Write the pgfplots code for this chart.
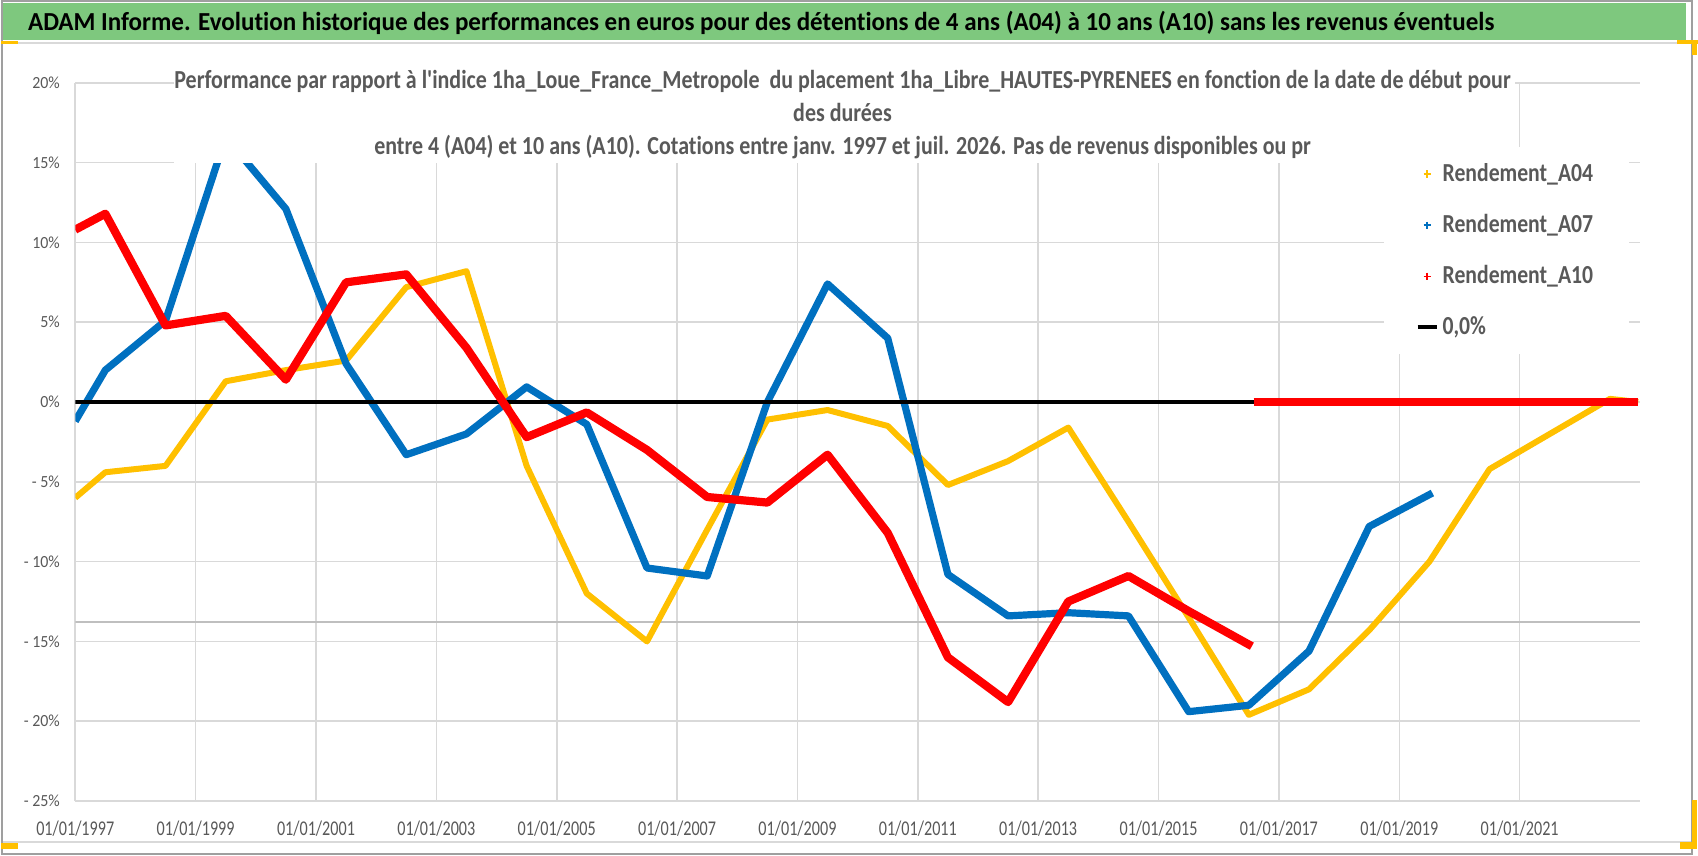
\documentclass[border=0pt]{standalone}
\usepackage{fontspec}
\setmainfont{Carlito}[Ligatures={TeX,NoCommon}]
\usepackage{graphicx}
\usepackage{pgfplots}
\pgfplotsset{compat=1.18}
\definecolor{ya}{HTML}{FFC000}
\definecolor{bl}{HTML}{0070C0}
\definecolor{rd}{HTML}{FF0000}
\definecolor{tx}{HTML}{595959}
\definecolor{grd}{HTML}{D9D9D9}
\definecolor{dgr}{HTML}{BFBFBF}
\definecolor{grn}{RGB}{126,200,126}
\newlength\Lw
\newcommand\fT{\fontsize{13}{15}\selectfont\bfseries}
\newcommand\fX{\fontsize{10.5}{12}\selectfont}
\newcommand\fY{\fontsize{8.5}{10}\selectfont}
\newcommand\fL{\fontsize{13}{15}\selectfont\bfseries}
\newcommand\TlineA{Performance par rapport à l\textquotesingle indice 1ha\_Loue\_France\_Metropole\ \ du placement 1ha\_Libre\_HAUTES-PYRENEES en fonction de la date de début pour}
\newcommand\TlineB{des durées}
\newcommand\TlineC{entre 4 (A04) et 10 ans (A10). Cotations entre janv. 1997 et juil. 2026. Pas de revenus disponibles ou pr}
\newcommand\XL[1]{\scalebox{\sX}[1]{#1}}
\newcommand\YL[1]{\scalebox{\sY}[1]{#1}}
\newcommand\LL[1]{\scalebox{\sL}[1]{#1}}
\begin{document}%
\settowidth\Lw{\fT\TlineA}\pgfmathsetmacro\sT{668.5/\Lw}%
\settowidth\Lw{\fX 01/01/1997}\pgfmathsetmacro\sX{39/\Lw}%
\settowidth\Lw{\fY - 20\%}\pgfmathsetmacro\sY{18/\Lw}%
\settowidth\Lw{\fL Rendement\_A04}\pgfmathsetmacro\sL{75.3/\Lw}%
\begin{tikzpicture}
% canvas
\fill[white] (0pt,0pt) rectangle (849pt,428pt);
\fill[grn] (1pt,408pt) rectangle (843pt,426.65pt);
\draw[grd, line width=1pt] (0pt,406.35pt) -- (845.8pt,406.35pt);
\draw[grd, line width=1pt] (0pt,6.5pt) -- (845.8pt,6.5pt);
\draw[gray!75, line width=1pt] (0.5pt,0.5pt) rectangle (845.8pt,427.5pt);
% handles
\fill[ya] (0pt,406pt) rectangle (8.5pt,407.7pt);
\fill[ya] (0pt,3pt) rectangle (8.5pt,6pt);
\fill[ya] (840pt,3pt) rectangle (848.5pt,6.5pt);
\fill[ya] (846pt,3pt) rectangle (848.5pt,28pt);
\fill[ya] (838.5pt,406pt) rectangle (849pt,408pt);
\fill[ya] (846pt,400.5pt) rectangle (848.5pt,408pt);
% title bar text
\node[anchor=base west, inner sep=0pt, font=\fontsize{13}{15}\selectfont\bfseries] at (13.35pt,412.65pt)
  {\resizebox{733.5pt}{\height}{ADAM Informe. Evolution historique des performances en euros pour des détentions de 4 ans (A04) à 10 ans (A10) sans les revenus éventuels}};
\begin{axis}[
  at={(37.15pt,27.25pt)}, anchor=south west,
  width=782.85pt, height=359.3pt, scale only axis,
  xmin=1997, xmax=2023, ymin=-25, ymax=20,
  axis line style={draw=none}, major tick length=0pt,
  grid=major, major grid style={grd, line width=0.8pt},
  xtick={1997,1999,...,2021}, ytick={-25,-20,...,20},
  xticklabels={\XL{01/01/1997},\XL{01/01/1999},\XL{01/01/2001},\XL{01/01/2003},\XL{01/01/2005},\XL{01/01/2007},\XL{01/01/2009},\XL{01/01/2011},\XL{01/01/2013},\XL{01/01/2015},\XL{01/01/2017},\XL{01/01/2019},\XL{01/01/2021}},
  yticklabels={\YL{- 25\%},\YL{- 20\%},\YL{- 15\%},\YL{- 10\%},\YL{- 5\%},\YL{0\%},\YL{5\%},\YL{10\%},\YL{15\%},\YL{20\%}},
  x tick label style={font=\fX, text=tx, anchor=center, yshift=-13.75pt, inner sep=0pt},
  y tick label style={font=\fY, text=tx, anchor=east, xshift=-7.5pt, inner sep=0pt},
  legend cell align=left,
  legend style={at={(0.8359,0.9108)}, anchor=north west, draw=none, fill=white,
    inner xsep=16pt, inner ysep=6pt, row sep=11pt, font=\fL, text=tx},
  legend image code/.code={\draw[mark repeat=2,mark phase=2,#1] plot coordinates {(0pt,0pt) (4.75pt,0pt) (9.5pt,0pt)};},
]
\addplot[forget plot, dgr, line width=0.9pt] coordinates {(1997,-13.77) (2023,-13.77)};
% Rendement_A04
\addplot[forget plot, ya, line width=3pt, line join=round] coordinates {
(1997.0,-6.0) (1997.5,-4.4) (1998.5,-4.0) (1999.5,1.3) (2000.5,2.0) (2001.5,2.6)
(2002.5,7.2) (2003.5,8.2) (2004.5,-4.0) (2005.5,-12.0) (2006.5,-15.0) (2007.5,-8.0)
(2008.5,-1.1) (2009.5,-0.5) (2010.5,-1.5) (2011.5,-5.2) (2012.5,-3.7) (2013.5,-1.6)
(2014.5,-7.5) (2015.5,-13.5) (2016.5,-19.6) (2017.5,-18.0) (2018.5,-14.3) (2019.5,-10.0)
(2020.5,-4.2) (2021.5,-2.0) (2022.5,0.2) (2022.97,0)};
% Rendement_A07
\addplot[forget plot, bl, line width=3.6pt, line join=round] coordinates {
(1997.0,-1.2) (1997.5,2.0) (1998.5,5.1) (1999.5,16.6) (2000.5,12.1) (2001.5,2.4)
(2002.5,-3.3) (2003.5,-2.0) (2004.5,0.95) (2005.5,-1.4) (2006.5,-10.4) (2007.5,-10.9)
(2008.5,0.0) (2009.5,7.4) (2010.5,4.0) (2011.5,-10.8) (2012.5,-13.4) (2013.5,-13.2)
(2014.5,-13.4) (2015.5,-19.4) (2016.5,-19.0) (2017.5,-15.6) (2018.5,-7.8) (2019.55,-5.7)};
% 0,0%
\addplot[forget plot, black, line width=2pt] coordinates {(1997.0,0) (2022.97,0)};
% Rendement_A10
\addplot[forget plot, rd, line width=4.1pt, line join=round] coordinates {
(1997.0,10.8) (1997.5,11.8) (1998.5,4.8) (1999.5,5.4) (2000.5,1.4) (2001.5,7.5)
(2002.5,8.0) (2003.5,3.4) (2004.5,-2.2) (2005.5,-0.65) (2006.5,-3.0) (2007.5,-5.95)
(2008.5,-6.3) (2009.5,-3.3) (2010.5,-8.2) (2011.5,-16.0) (2012.5,-18.8) (2013.5,-12.5)
(2014.5,-10.9) (2015.5,-13.1) (2016.55,-15.3)};
\addplot[forget plot, rd, line width=4.1pt] coordinates {(2016.58,0) (2022.97,0)};
\addlegendimage{ya, only marks, mark=+, mark size=1.8pt, mark options={line width=0.7pt}}
\addlegendentry{\LL{Rendement\_A04}}
\addlegendimage{bl, only marks, mark=+, mark size=1.8pt, mark options={line width=0.7pt}}
\addlegendentry{\LL{Rendement\_A07}}
\addlegendimage{rd, only marks, mark=+, mark size=1.8pt, mark options={line width=0.7pt}}
\addlegendentry{\LL{Rendement\_A10}}
\addlegendimage{black, line width=2pt}
\addlegendentry{\LL{0,0\%}}
\end{axis}
% chart title
\fill[white] (86.5pt,346.25pt) rectangle (757.5pt,403pt);
\node[anchor=base, inner sep=0pt, text=tx, font=\fT] at (421pt,383.8pt) {\scalebox{\sT}[1]{\TlineA}};
\node[anchor=base, inner sep=0pt, text=tx, font=\fT] at (421pt,367.15pt) {\scalebox{\sT}[1]{\TlineB}};
\node[anchor=base, inner sep=0pt, text=tx, font=\fT] at (421pt,350.5pt) {\scalebox{\sT}[1]{\TlineC}};
\end{tikzpicture}%
\end{document}
